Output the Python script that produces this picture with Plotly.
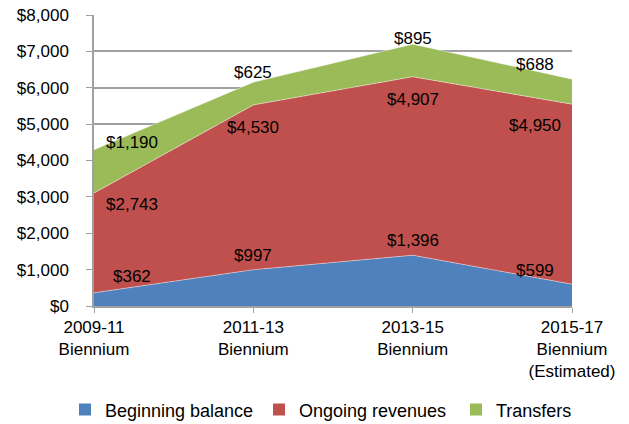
import plotly.graph_objects as go

categories = ["2009-11<br>Biennium", "2011-13<br>Biennium", "2013-15<br>Biennium", "2015-17<br>Biennium<br>(Estimated)"]
beginning_balance = [362, 997, 1396, 599]
ongoing_revenues = [2743, 4530, 4907, 4950]
transfers = [1190, 625, 895, 688]

series = [
    ("Beginning balance", beginning_balance, "#4F81BD"),
    ("Ongoing revenues", ongoing_revenues, "#C0504D"),
    ("Transfers", transfers, "#9BBB59"),
]

# label pixel offsets relative to each series' top point (style only)
label_yshift = {
    "Beginning balance": [16, 14, 15, 14],
    "Ongoing revenues": [-11, -23, -23, -21],
    "Transfers": [7, 10, 6, 15],
}
edge_xshift = [38, 0, 0, -37]
legend_ids = ["legend", "legend2", "legend3"]
legend_x = [-0.0607, 0.3452, 0.7573]

FONT = "Liberation Sans, Arial"
x = list(range(len(categories)))
fig = go.Figure()
cum = [0] * len(x)
annotations = []
for k, (name, vals, color) in enumerate(series):
    cum = [c + v for c, v in zip(cum, vals)]
    fig.add_trace(go.Scatter(
        x=x, y=vals, name=name, stackgroup="one", mode="lines",
        line=dict(width=0.8, color="rgba(255,255,255,0.55)"),
        fillcolor=color, showlegend=False, hoverinfo="skip",
    ))
    fig.add_trace(go.Bar(x=[None], y=[None], name=name, legend=legend_ids[k],
                         marker=dict(color=color, line=dict(width=0))))
    for i, (xi, top, v) in enumerate(zip(x, cum, vals)):
        annotations.append(dict(
            x=xi, y=top, text=f"${v:,}", showarrow=False,
            xshift=edge_xshift[i], yshift=label_yshift[name][i],
            font=dict(family=FONT, size=17, color="#000"),
        ))

legend_common = dict(orientation="h", xanchor="left", y=-0.357, yanchor="middle",
                     font=dict(size=18), itemwidth=30, bgcolor="rgba(0,0,0,0)")

fig.update_layout(
    width=629, height=424,
    margin=dict(l=94, r=57, t=15, b=118, autoexpand=False),
    paper_bgcolor="white", plot_bgcolor="white",
    font=dict(family=FONT, size=17, color="#000"),
    annotations=annotations,
    showlegend=True,
    legend=dict(x=legend_x[0], **legend_common),
    legend2=dict(x=legend_x[1], **legend_common),
    legend3=dict(x=legend_x[2], **legend_common),
    xaxis=dict(range=[0, 3], tickvals=x, ticktext=categories, showgrid=False,
               showline=True, linecolor="#A0A0A0", linewidth=1.5, automargin=False,
               ticks="outside", ticklen=5, tickcolor="#A0A0A0", zeroline=False),
    yaxis=dict(range=[0, 8000], dtick=1000, tickprefix="$", tickformat=",",
               showgrid=True, gridcolor="#A0A0A0", gridwidth=1.5, automargin=False,
               showline=True, linecolor="#A0A0A0", linewidth=1.5, ticklabelstandoff=14,
               ticklabeloverflow="allow",
               ticks="outside", ticklen=6, tickcolor="#A0A0A0", zeroline=False),
)

fig.write_html("out.html", config={"displayModeBar": False},
               post_script="document.body.style.margin='0';")
